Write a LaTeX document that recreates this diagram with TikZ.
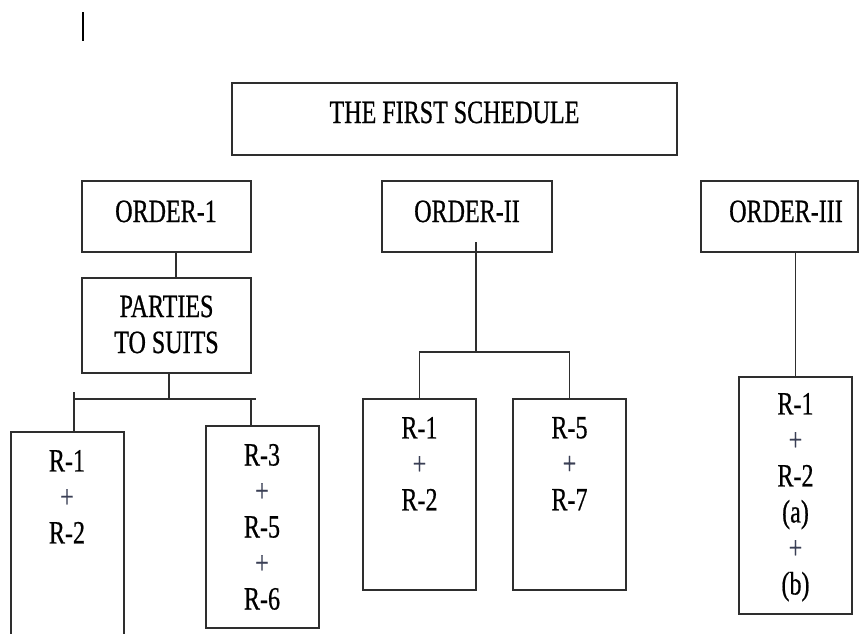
\documentclass[tikz,border=0pt]{standalone}
\usepackage{fontspec}
\setmainfont{Liberation Serif}[FakeStretch=0.74,FakeBold=0.6]
\definecolor{linec}{HTML}{2E2E2E}
\definecolor{plusc}{HTML}{3A3F55}
\newcommand{\pl}{{\color{plusc}+}}
\begin{document}
\begin{tikzpicture}[x=1pt,y=-1pt,
  box/.style={draw=linec,line width=1.6pt,inner sep=0pt,outer sep=0pt},
  lbl/.style={font=\fontsize{32.5}{36}\selectfont,inner sep=0pt,outer sep=0pt,align=center,text=black},
  conn/.style={draw=linec,line width=1.6pt}]
\useasboundingbox (0,0) rectangle (859,633);
% cursor mark
\coordinate (cur1) at (83,12);
\coordinate (cur2) at (83,41);
\draw[line width=1.4pt,black] (cur1) -- (cur2);
% boxes
\node[box,minimum width=445pt,minimum height=72pt] (title) at (454.5,119) {};
\node[box,minimum width=169pt,minimum height=71pt] (o1) at (166.5,216.5) {};
\node[box,minimum width=169pt,minimum height=95pt] (p) at (166.5,325.5) {};
\node[box,minimum width=170pt,minimum height=71pt] (o2) at (467,216.5) {};
\node[box,minimum width=157pt,minimum height=71pt] (o3) at (779.5,216.5) {};
\node[box,minimum width=113pt,minimum height=248pt] (l1) at (67.5,556) {};
\node[box,minimum width=113pt,minimum height=202pt] (l2) at (262.5,527) {};
\node[box,minimum width=113pt,minimum height=191pt] (m1) at (419.5,494.5) {};
\node[box,minimum width=113pt,minimum height=191pt] (m2) at (569.5,494.5) {};
\node[box,minimum width=113pt,minimum height=237pt] (r) at (795.5,495.5) {};
% texts
\node[lbl,anchor=base] (titlet) at (454.5,123) {THE FIRST SCHEDULE};
\node[lbl,anchor=base] (o1t) at (166,222) {ORDER-1};
\node[lbl,anchor=base] (o2t) at (467,222) {ORDER-II};
\node[lbl,anchor=base] (o3t) at (786,222) {ORDER-III};
\node[lbl,anchor=north] (pt) at (166.5,295.5) {PARTIES\\TO SUITS};
\node[lbl,anchor=north] (l1t) at (67,450) {R-1\\\pl\\R-2};
\node[lbl,anchor=north] (l2t) at (262,444) {R-3\\\pl\\R-5\\\pl\\R-6};
\node[lbl,anchor=north] (m1t) at (419.5,417) {R-1\\\pl\\R-2};
\node[lbl,anchor=north] (m2t) at (569.5,417) {R-5\\\pl\\R-7};
\node[lbl,anchor=north] (rt) at (795.5,393) {R-1\\\pl\\R-2\\(a)\\\pl\\(b)};
% connectors: Order-1
\coordinate (j0) at (176,0);
\draw[conn] (j0 |- o1.south) -- (j0 |- p.north);
\coordinate (j1) at (169,399);
\coordinate (barL) at (74,399);
\coordinate (barR) at (256,399);
\coordinate (barLup) at (74,392);
\coordinate (j2) at (251,399);
\draw[conn] (j1 |- p.south) -- (j1);
\draw[conn] (barL) -- (barR);
\draw[conn] (barLup) -- (barLup |- l1.north);
\draw[conn] (j2) -- (j2 |- l2.north);
% Order-II
\coordinate (k0) at (476,242);
\coordinate (k1) at (476,352);
\draw[conn] (k0) -- (k1);
\draw[conn] (m1.north) -- (m1.north |- k1) -- (m2.north |- k1) -- (m2.north);
% Order-III
\draw[conn] (r.north |- o3.south) -- (r.north);
\end{tikzpicture}
\end{document}
